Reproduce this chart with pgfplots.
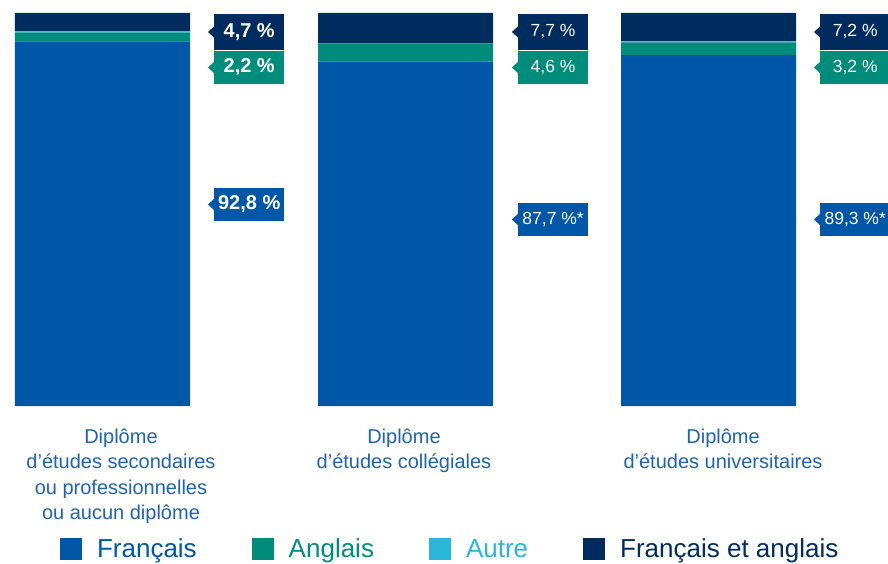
\documentclass[border=0pt]{standalone}
\usepackage{pgfplots}
\pgfplotsset{compat=1.18}
\usepackage{fontspec}
\setmainfont{Liberation Sans}
\definecolor{fr}{HTML}{0057A8}
\definecolor{en}{HTML}{008C7A}
\definecolor{au}{HTML}{29B6D8}
\definecolor{fe}{HTML}{002B5F}
\definecolor{lab}{HTML}{1F63B0}
\tikzset{
  bigb/.style={font=\fontsize{20}{24}\selectfont\bfseries},
  reg/.style={font=\fontsize{17.5}{20}\selectfont},
}
\newcommand{\callout}[6]{%
  \fill[#3] (axis cs:#1,#2) ++(0.5pt,6pt) -- ++(-6.5pt,-6pt) -- ++(6.5pt,-6pt) -- cycle;
  \node[fill=#3,text=white,minimum width=70pt,minimum height=#4,inner sep=0pt,anchor=west,#5] at (axis cs:#1,#2) {#6};
}
\begin{document}
\begin{tikzpicture}
\path[use as bounding box] (0,0) rectangle (888pt,563pt);
\begin{axis}[
  at={(0pt,157pt)}, anchor=south west,
  scale only axis, width=888pt, height=393pt,
  xmin=-0.33828, xmax=2.59241, ymin=0, ymax=100,
  ybar stacked, bar width=175pt,
  axis line style={draw=none},
  major tick length=0pt,
  ytick=\empty,
  xtick={0.061,0.995,2.048},
  xticklabels={{Diplôme\\d’études secondaires\\ou professionnelles\\ou aucun diplôme},{Diplôme\\d’études collégiales},{Diplôme\\d’études universitaires}},
  xticklabel style={align=center, text=lab, font=\fontsize{20}{25.5}\selectfont, yshift=-19pt},
  clip=false,
  legend columns=4,
  legend image code/.code={\fill[#1] (0pt,-11pt) rectangle (22pt,11pt);},
  legend style={at={(0.507,-0.3639)}, anchor=center, draw=none, fill=none, inner sep=0pt,
    font=\fontsize{26}{30}\selectfont,
    /tikz/every odd column/.append style={column sep=13pt},
    /tikz/every even column/.append style={column sep=53pt}},
]
\addplot[fill=fr, draw=none] coordinates {(0,92.8) (1,87.7) (2,89.3)};
\addlegendentry{\textcolor{fr}{Français}}
\addplot[fill=en, draw=none] coordinates {(0,2.2) (1,4.6) (2,3.2)};
\addlegendentry{\textcolor{en}{Anglais}}
\addplot[fill=au, draw=none] coordinates {(0,0.3) (1,0.0) (2,0.3)};
\addlegendentry{\textcolor{au}{Autre}}
\addplot[fill=fe, draw=none] coordinates {(0,4.7) (1,7.7) (2,7.2)};
\addlegendentry{\textcolor{fe}{Français et anglais}}

\callout{0.368}{95.17}{fe}{36pt}{bigb}{4,7 \%}
\callout{0.368}{86.13}{en}{33pt}{bigb}{2,2 \%}
\callout{0.368}{51.27}{fr}{33pt}{bigb}{92,8 \%}
\callout{1.371}{95.17}{fe}{36pt}{reg}{7,7 \%}
\callout{1.371}{86.13}{en}{33pt}{reg}{4,6 \%}
\callout{1.371}{47.46}{fr}{33pt}{reg}{87,7 \%*}
\callout{2.368}{95.17}{fe}{36pt}{reg}{7,2 \%}
\callout{2.368}{86.13}{en}{33pt}{reg}{3,2 \%}
\callout{2.368}{47.46}{fr}{33pt}{reg}{89,3 \%*}
\end{axis}
\end{tikzpicture}
\end{document}
